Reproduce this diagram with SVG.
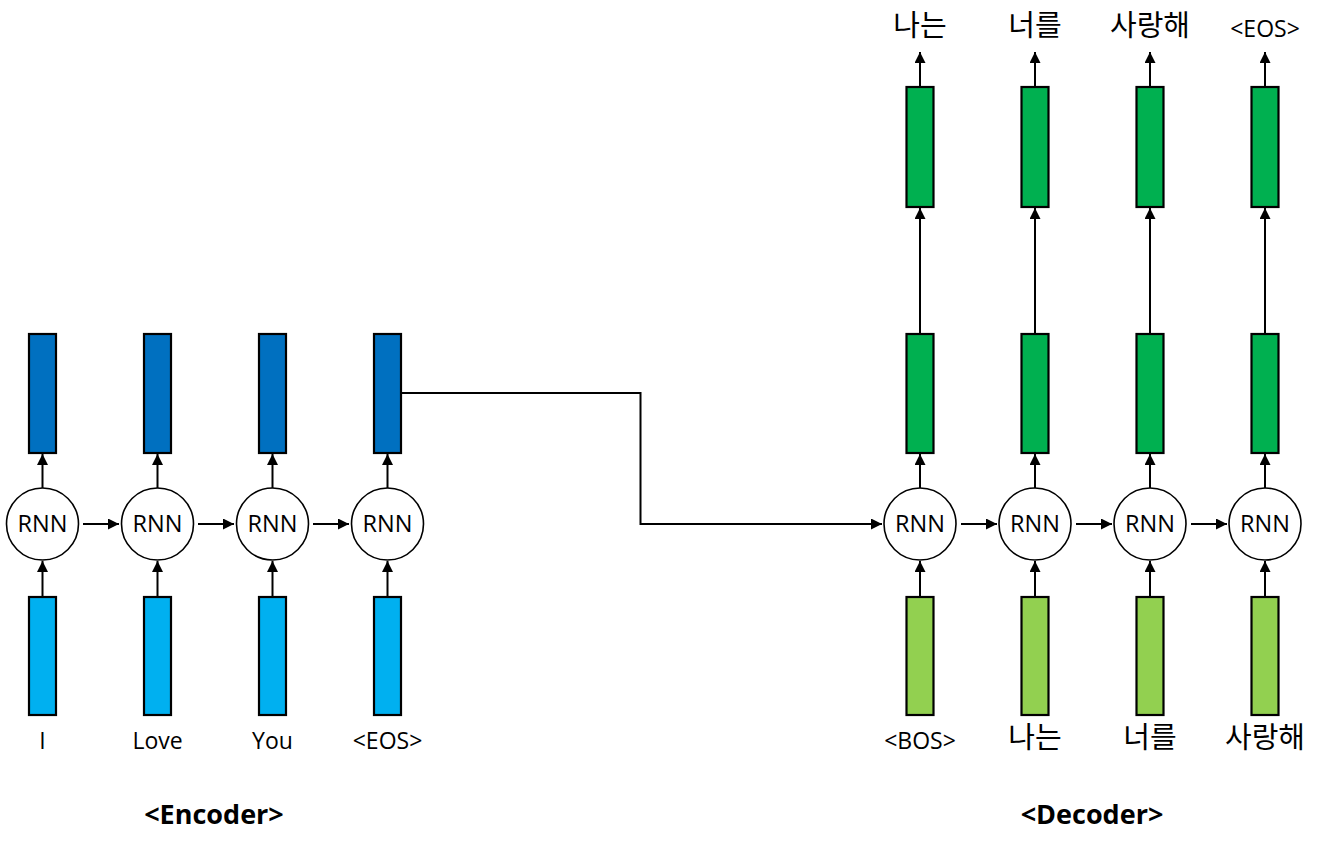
<svg xmlns="http://www.w3.org/2000/svg" width="1324" height="852" viewBox="0 0 1324 852">
<style>
.box{stroke:#000;stroke-width:2.2}
.enc-top{fill:#0070C0}
.enc-in{fill:#00B0F0}
.dec-top{fill:#00B050}
.dec-in{fill:#92D050}
.rnn{fill:#fff;stroke:#000;stroke-width:1.6}
.lbl{font-family:"Open Sans","Noto Sans CJK KR",sans-serif;fill:#000;text-anchor:middle}
.rnnt{font-size:23.5px}
.word{font-size:23px}
.kor{font-family:"Noto Sans CJK KR","Open Sans",sans-serif;font-size:29px}
.cap{font-size:27px;font-weight:bold}
.conn{fill:none;stroke:#000;stroke-width:2}
</style>
<defs>
<marker id="ah" viewBox="0 0 10 10" refX="10" refY="5" markerWidth="11" markerHeight="11" markerUnits="userSpaceOnUse" orient="auto">
<path d="M0,0 L10,5 L0,10 z" fill="#000"/>
</marker>
</defs>
<g id="connectors">
<line class="conn" x1="42.5" y1="596" x2="42.5" y2="561" marker-end="url(#ah)"/>
<line class="conn" x1="157.5" y1="596" x2="157.5" y2="561" marker-end="url(#ah)"/>
<line class="conn" x1="272.5" y1="596" x2="272.5" y2="561" marker-end="url(#ah)"/>
<line class="conn" x1="387.5" y1="596" x2="387.5" y2="561" marker-end="url(#ah)"/>
<line class="conn" x1="42.5" y1="488" x2="42.5" y2="454" marker-end="url(#ah)"/>
<line class="conn" x1="157.5" y1="488" x2="157.5" y2="454" marker-end="url(#ah)"/>
<line class="conn" x1="272.5" y1="488" x2="272.5" y2="454" marker-end="url(#ah)"/>
<line class="conn" x1="387.5" y1="488" x2="387.5" y2="454" marker-end="url(#ah)"/>
<line class="conn" x1="83" y1="524" x2="119" y2="524" marker-end="url(#ah)"/>
<line class="conn" x1="198" y1="524" x2="234" y2="524" marker-end="url(#ah)"/>
<line class="conn" x1="313" y1="524" x2="349" y2="524" marker-end="url(#ah)"/>
<polyline class="conn" points="401,393 640.5,393 640.5,524 882,524" marker-end="url(#ah)"/>
<line class="conn" x1="920" y1="596" x2="920" y2="561" marker-end="url(#ah)"/>
<line class="conn" x1="1035" y1="596" x2="1035" y2="561" marker-end="url(#ah)"/>
<line class="conn" x1="1150" y1="596" x2="1150" y2="561" marker-end="url(#ah)"/>
<line class="conn" x1="1265" y1="596" x2="1265" y2="561" marker-end="url(#ah)"/>
<line class="conn" x1="920" y1="488" x2="920" y2="454" marker-end="url(#ah)"/>
<line class="conn" x1="1035" y1="488" x2="1035" y2="454" marker-end="url(#ah)"/>
<line class="conn" x1="1150" y1="488" x2="1150" y2="454" marker-end="url(#ah)"/>
<line class="conn" x1="1265" y1="488" x2="1265" y2="454" marker-end="url(#ah)"/>
<line class="conn" x1="920" y1="334" x2="920" y2="208" marker-end="url(#ah)"/>
<line class="conn" x1="1035" y1="334" x2="1035" y2="208" marker-end="url(#ah)"/>
<line class="conn" x1="1150" y1="334" x2="1150" y2="208" marker-end="url(#ah)"/>
<line class="conn" x1="1265" y1="334" x2="1265" y2="208" marker-end="url(#ah)"/>
<line class="conn" x1="920" y1="87" x2="920" y2="52" marker-end="url(#ah)"/>
<line class="conn" x1="1035" y1="87" x2="1035" y2="52" marker-end="url(#ah)"/>
<line class="conn" x1="1150" y1="87" x2="1150" y2="52" marker-end="url(#ah)"/>
<line class="conn" x1="1265" y1="87" x2="1265" y2="52" marker-end="url(#ah)"/>
<line class="conn" x1="961" y1="524" x2="997" y2="524" marker-end="url(#ah)"/>
<line class="conn" x1="1076" y1="524" x2="1112" y2="524" marker-end="url(#ah)"/>
<line class="conn" x1="1191" y1="524" x2="1227" y2="524" marker-end="url(#ah)"/>
</g>
<g id="enc1">
<rect class="box enc-top" x="29" y="334" width="27" height="119"/>
<circle class="rnn" cx="42.5" cy="524" r="36"/>
<text class="lbl rnnt" x="42.5" y="532">RNN</text>
<rect class="box enc-in" x="29" y="597" width="27" height="118"/>
<text class="lbl word" x="42.5" y="749">I</text>
</g>
<g id="enc2">
<rect class="box enc-top" x="144" y="334" width="27" height="119"/>
<circle class="rnn" cx="157.5" cy="524" r="36"/>
<text class="lbl rnnt" x="157.5" y="532">RNN</text>
<rect class="box enc-in" x="144" y="597" width="27" height="118"/>
<text class="lbl word" x="157.5" y="749">Love</text>
</g>
<g id="enc3">
<rect class="box enc-top" x="259" y="334" width="27" height="119"/>
<circle class="rnn" cx="272.5" cy="524" r="36"/>
<text class="lbl rnnt" x="272.5" y="532">RNN</text>
<rect class="box enc-in" x="259" y="597" width="27" height="118"/>
<text class="lbl word" x="272.5" y="749">You</text>
</g>
<g id="enc4">
<rect class="box enc-top" x="374" y="334" width="27" height="119"/>
<circle class="rnn" cx="387.5" cy="524" r="36"/>
<text class="lbl rnnt" x="387.5" y="532">RNN</text>
<rect class="box enc-in" x="374" y="597" width="27" height="118"/>
<text class="lbl word" x="387.5" y="749">&lt;EOS&gt;</text>
</g>
<g id="dec1">
<text class="lbl kor" x="920" y="36">나는</text>
<rect class="box dec-top" x="906.5" y="87" width="27" height="120"/>
<rect class="box dec-top" x="906.5" y="334" width="27" height="119"/>
<circle class="rnn" cx="920" cy="524" r="36"/>
<text class="lbl rnnt" x="920" y="532">RNN</text>
<rect class="box dec-in" x="906.5" y="597" width="27" height="118"/>
<text class="lbl word" x="920" y="749">&lt;BOS&gt;</text>
</g>
<g id="dec2">
<text class="lbl kor" x="1035" y="36">너를</text>
<rect class="box dec-top" x="1021.5" y="87" width="27" height="120"/>
<rect class="box dec-top" x="1021.5" y="334" width="27" height="119"/>
<circle class="rnn" cx="1035" cy="524" r="36"/>
<text class="lbl rnnt" x="1035" y="532">RNN</text>
<rect class="box dec-in" x="1021.5" y="597" width="27" height="118"/>
<text class="lbl kor" x="1035" y="748">나는</text>
</g>
<g id="dec3">
<text class="lbl kor" x="1150" y="36">사랑해</text>
<rect class="box dec-top" x="1136.5" y="87" width="27" height="120"/>
<rect class="box dec-top" x="1136.5" y="334" width="27" height="119"/>
<circle class="rnn" cx="1150" cy="524" r="36"/>
<text class="lbl rnnt" x="1150" y="532">RNN</text>
<rect class="box dec-in" x="1136.5" y="597" width="27" height="118"/>
<text class="lbl kor" x="1150" y="748">너를</text>
</g>
<g id="dec4">
<text class="lbl word" x="1265" y="37">&lt;EOS&gt;</text>
<rect class="box dec-top" x="1251.5" y="87" width="27" height="120"/>
<rect class="box dec-top" x="1251.5" y="334" width="27" height="119"/>
<circle class="rnn" cx="1265" cy="524" r="36"/>
<text class="lbl rnnt" x="1265" y="532">RNN</text>
<rect class="box dec-in" x="1251.5" y="597" width="27" height="118"/>
<text class="lbl kor" x="1265" y="748">사랑해</text>
</g>
<g id="captions">
<text class="lbl cap" x="214" y="824">&lt;Encoder&gt;</text>
<text class="lbl cap" x="1092" y="824">&lt;Decoder&gt;</text>
</g>
</svg>
